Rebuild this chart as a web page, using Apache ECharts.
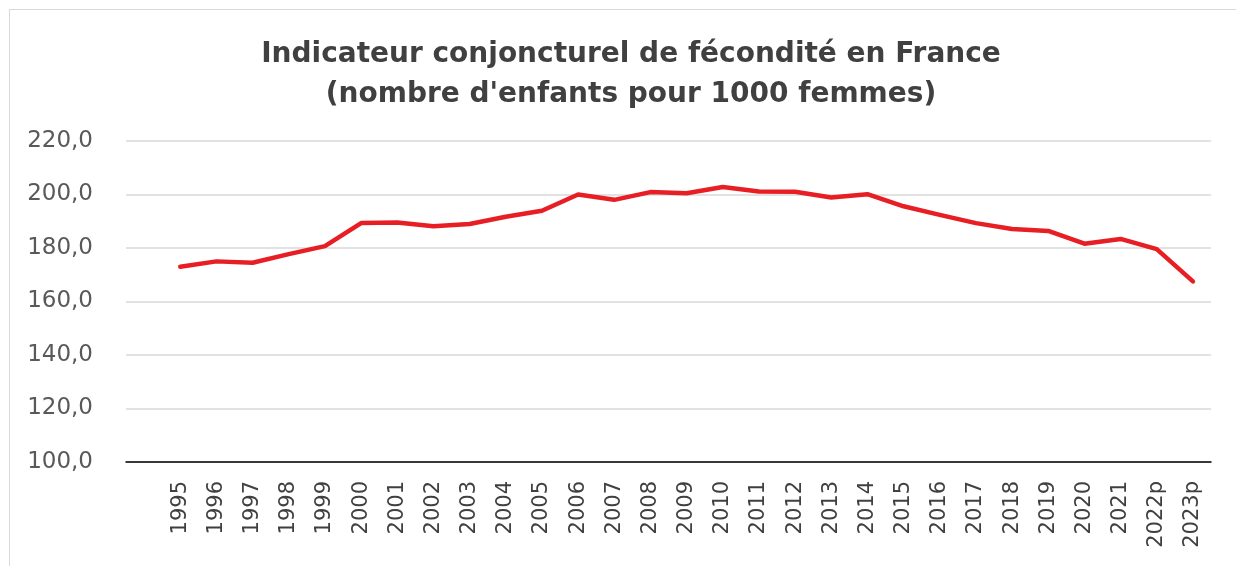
<!DOCTYPE html>
<html>
<head>
<meta charset="utf-8">
<script src="https://cdn.jsdelivr.net/npm/echarts@6/dist/echarts.min.js"></script>
<style>
  html, body { margin: 0; padding: 0; background: #fff; }
  #wrap { position: relative; width: 1236px; height: 566px; overflow: hidden; }
  #frame { position: absolute; left: 9px; top: 9px; width: 1400px; height: 700px; border: 1px solid #d9d9d9; }
  #chart { position: absolute; left: 0; top: 0; width: 1236px; height: 566px; }
</style>
</head>
<body>
<div id="wrap">
  <div id="frame"></div>
  <div id="chart"></div>
</div>
<script>
// années (la première case de l'axe est vide dans l'original)
const years = ['1995', '1996', '1997', '1998', '1999', '2000', '2001', '2002', '2003', '2004',
  '2005', '2006', '2007', '2008', '2009', '2010', '2011', '2012', '2013', '2014',
  '2015', '2016', '2017', '2018', '2019', '2020', '2021', '2022p', '2023p'];
// indicateur conjoncturel de fécondité, enfants pour 1000 femmes
const icf = [173.0, 175.0, 174.5, 177.7, 180.7, 189.3, 189.5, 188.1, 189.0, 191.7,
  193.9, 200.0, 198.0, 200.9, 200.5, 202.8, 201.1, 201.0, 198.9, 200.1,
  195.6, 192.4, 189.3, 187.1, 186.4, 181.6, 183.4, 179.6, 167.5];
const yTicks = { min: 100, max: 220, interval: 20 };

const chart = echarts.init(document.getElementById('chart'));

const option = {
  animation: false,
  title: {
    text: 'Indicateur conjoncturel de fécondité en France\n(nombre d\'enfants pour 1000 femmes)',
    left: 626,
    top: 30,
    textAlign: 'center',
    textStyle: {
      fontFamily: 'DejaVu Sans',
      fontWeight: 'bold',
      fontSize: 28,
      lineHeight: 40,
      color: '#404040'
    }
  },
  grid: {
    left: 126,
    right: 25,
    top: 141,
    bottom: 104
  },
  xAxis: {
    type: 'category',
    data: [''].concat(years),
    boundaryGap: true,
    axisLine: { lineStyle: { color: '#000', width: 1.5 } },
    axisTick: { show: false },
    axisLabel: {
      rotate: 90,
      margin: 19,
      interval: 0,
      fontFamily: 'DejaVu Sans',
      fontSize: 21,
      color: '#404040'
    }
  },
  yAxis: {
    type: 'value',
    min: yTicks.min,
    max: yTicks.max,
    interval: yTicks.interval,
    axisLine: { show: false },
    axisTick: { show: false },
    splitLine: { lineStyle: { color: '#d9d9d9', width: 1.5 } },
    axisLabel: {
      margin: 33,
      fontFamily: 'DejaVu Sans',
      fontSize: 23,
      color: '#595959',
      formatter: v => v.toFixed(1).replace('.', ',')
    }
  },
  series: [
    {
      type: 'line',
      data: [null].concat(icf),
      symbol: 'none',
      lineStyle: { color: '#e81e25', width: 4.5, cap: 'round', join: 'round' }
    }
  ]
};

chart.setOption(option);
</script>
</body>
</html>
